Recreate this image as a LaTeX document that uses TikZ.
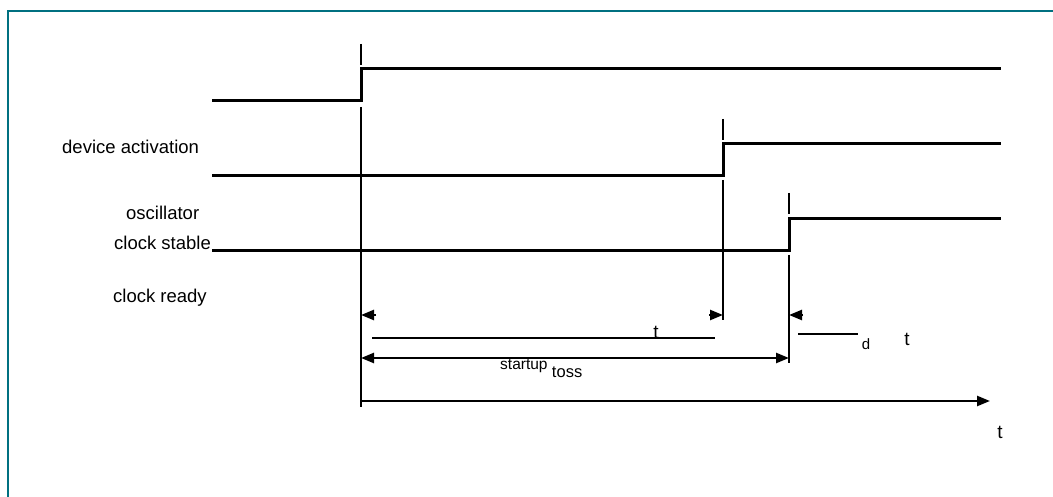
\documentclass[tikz,border=0pt]{standalone}
\usepackage{fontspec}
\setmainfont{Liberation Sans}
\usepackage{xcolor}
\usepackage{tikz}
\usetikzlibrary{arrows.meta, positioning}
\definecolor{FrameTeal}{HTML}{007080}
\definecolor{TraceInk}{HTML}{000000}

\begin{document}
\begin{tikzpicture}[x=1pt, y=-1pt,
    signal/.style={TraceInk, line width=3pt, line join=miter},
    marker/.style={TraceInk, line width=2.6pt},
    dimline/.style={TraceInk, line width=2.4pt},
    tri/.style={-{Triangle[length=13pt,width=10pt]}},
    signame/.style={font=\fontsize{18.5}{22}\selectfont, inner sep=0pt, anchor=west},
    timelbl/.style={font=\fontsize{19}{22}\selectfont, inner sep=0pt}]
      \useasboundingbox (0,0) rectangle (1053,497);
      \clip (0,0) rectangle (1053,497);
      % Frame
      \draw[FrameTeal, line width=2.2pt] (8,520) -- (8,11) -- (1080,11);
      % Signal names
      \node[signame] (devact) at (62,147) {device activation};
      \node[signame] (osc) at (126,213) {oscillator};
      \node[signame] (stable) at (114,243) {clock stable};
      \node[signame] (ready) at (113,298) {clock ready};
      % Waveforms
      \draw[signal] (212,101) -- (361,101) -- (361,69) -- (1001,69);
      \draw[signal] (212,176) -- (723,176) -- (723,144) -- (1001,144);
      \draw[signal] (212,251) -- (789,251) -- (789,219) -- (1001,219);
      % Edge markers
      \draw[marker] (361,44) -- (361,65);
      \draw[marker] (361,107) -- (361,407);
      \draw[marker] (723,119) -- (723,140);
      \draw[marker] (723,180) -- (723,320);
      \draw[marker] (789,193) -- (789,214);
      \draw[marker] (789,255) -- (789,363);
      % Intervals
      \draw[dimline, tri] (376,315) -- (361,315);
      \draw[dimline, tri] (709,315) -- (723,315);
      \draw[dimline, tri] (803,315) -- (789,315);
      \draw[dimline] (372,338) -- (715,338);
      \node[timelbl, anchor=base] (tact) at (656,338) {t};
      \draw[dimline] (798,334) -- (858,334);
      \node[font=\fontsize{15}{17}\selectfont, inner sep=0pt] (dsub) at (866,344) {d};
      \node[timelbl] (tdel) at (907,339) {t};
      \draw[dimline, {Triangle[length=13pt,width=10pt]}-{Triangle[length=13pt,width=10pt]}] (361,358) -- (789,358);
      \node[font=\fontsize{15.5}{18}\selectfont, inner sep=0pt, anchor=base west] (startup) at (500,369) {startup};
      \node[font=\fontsize{16.5}{19}\selectfont, inner sep=0pt, anchor=base west, right=4pt of startup.base east, yshift=-3pt] (toss) {toss};
      % Time axis
      \draw[dimline, tri] (361,401) -- (990,401);
      \node[timelbl] (taxis) at (1000,432) {t};
    \end{tikzpicture}
\end{document}
